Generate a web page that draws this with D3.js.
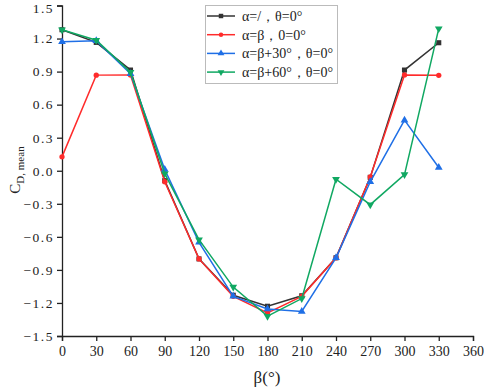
<!DOCTYPE html>
<html><head><meta charset="utf-8">
<script src="https://cdn.jsdelivr.net/npm/d3@7"></script>
<style>
body{margin:0;background:#fff;}
svg{display:block;}
text{font-family:"Liberation Serif","DejaVu Serif",serif;fill:#222;}
</style></head><body>
<svg id="c" width="484" height="390"></svg>
<script>
const beta = [0,30,60,90,120,150,180,210,240,270,300,330];
const sBlack = [1.28,1.165,0.914,-0.09,-0.80,-1.13,-1.23,-1.135,-0.79,-0.06,0.914,1.162];
const sRed   = [0.126,0.868,0.87,-0.10,-0.80,-1.14,-1.29,-1.14,-0.79,-0.056,0.87,0.866];
const sBlue  = [1.17,1.18,0.88,0.011,-0.65,-1.14,-1.255,-1.277,-0.79,-0.10,0.459,0.029];
const sGreen = [1.28,1.185,0.895,-0.026,-0.626,-1.056,-1.32,-1.16,-0.077,-0.308,-0.035,1.29];
const seriesNames = ["α=/，θ=0°","α=β，0=0°","α=β+30°，θ=0°","α=β+60°，θ=0°"];
const xTicks = [0,30,60,90,120,150,180,210,240,270,300,330,360];
const yTicks = [-1.5,-1.2,-0.9,-0.6,-0.3,0,0.3,0.6,0.9,1.2,1.5];
const xTitle = "β(°)";
const yTitleMain = "C", yTitleSub = "D, mean";

const colors = ["#333333","#ff2b2b","#1f6fe6","#10a862"];
const symbols = [d3.symbolSquare, d3.symbolCircle, d3.symbolTriangle, d3.symbolTriangle];
const rotations = [0,0,0,180];
const seriesData = [sBlack,sRed,sBlue,sGreen];

const svg = d3.select("#c");
const L=62, R=473, T=5.5, B=336;
const x = d3.scaleLinear().domain([0,360]).range([L,R]);
const y = d3.scaleLinear().domain([-1.5,1.5]).range([B,T]);

// minor ticks
const xMinor = d3.range(15,360,30);
const yMinor = d3.range(-1.35,1.5,0.3);
const gx = svg.append("g").attr("transform",`translate(0,${B})`);
gx.call(d3.axisBottom(x).tickValues(xMinor).tickSize(3).tickFormat(""));
gx.call(d3.axisBottom(x).tickValues(xTicks).tickSize(5).tickPadding(5).tickFormat(d3.format("d")));
gx.selectAll("text").style("font-size","14px").attr("fill","#222");
const gy = svg.append("g").attr("transform",`translate(${L},0)`);
gy.call(d3.axisLeft(y).tickValues(yMinor).tickSize(3).tickFormat(""));
gy.call(d3.axisLeft(y).tickValues(yTicks).tickSize(5).tickPadding(3).tickFormat(d3.format(".1f")));
gy.selectAll("text").style("font-size","13.5px").style("letter-spacing","1.5px").attr("fill","#222")
  .filter(d=>d===1.5).attr("dy","0.5em");
svg.selectAll(".domain, .tick line").attr("stroke","#222").attr("stroke-width",1.3);

// series
const line = d3.line().x((d,i)=>x(beta[i])).y(d=>y(d));
seriesData.forEach((s,k)=>{
  svg.append("path").datum(s).attr("d",line).attr("fill","none")
    .attr("stroke",colors[k]).attr("stroke-width",1.5);
  const sym = d3.symbol().type(symbols[k]).size(k===1?22:26);
  svg.append("g").selectAll("path").data(s).join("path")
    .attr("d",sym)
    .attr("transform",(d,i)=>`translate(${x(beta[i])},${y(d)}) rotate(${rotations[k]})`)
    .attr("fill",colors[k]);
});

// legend
const lg = svg.append("g");
lg.append("rect").attr("x",205.5).attr("y",5.5).attr("width",132).attr("height",78)
  .attr("fill","#fff").attr("stroke","#bbb").attr("stroke-width",1);
seriesNames.forEach((n,k)=>{
  const yy = 16 + k*18.7;
  lg.append("line").attr("x1",207).attr("x2",235).attr("y1",yy).attr("y2",yy)
    .attr("stroke",colors[k]).attr("stroke-width",1.5);
  lg.append("path").attr("d",d3.symbol().type(symbols[k]).size(k===1?16:20))
    .attr("transform",`translate(221,${yy}) rotate(${rotations[k]})`).attr("fill",colors[k]);
  lg.append("text").attr("x",242).attr("y",yy+5).style("font-size","14px").text(n);
});

// titles
svg.append("text").attr("x",267).attr("y",383).attr("text-anchor","middle")
  .style("font-size","17px").text(xTitle);
const yt = svg.append("text").attr("transform","translate(20,170) rotate(-90)")
  .attr("text-anchor","middle").style("font-size","15px");
yt.append("tspan").text(yTitleMain);
yt.append("tspan").attr("dy",4).style("font-size","11px").text(yTitleSub);
</script></body></html>
